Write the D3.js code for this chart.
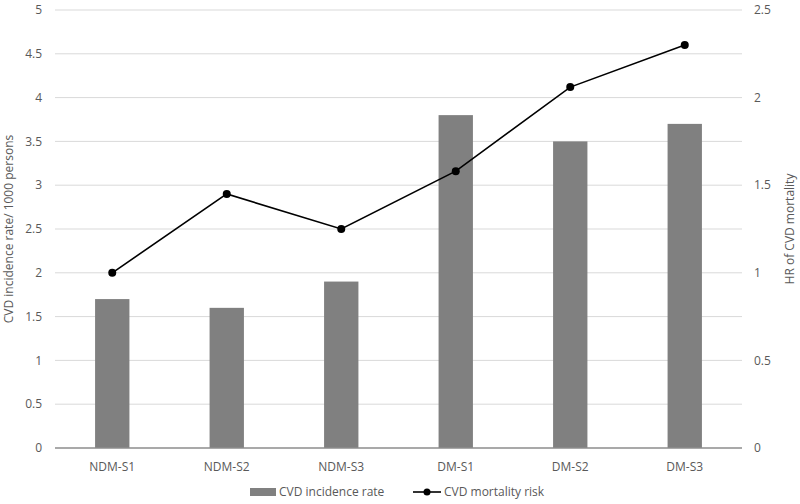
<!doctype html>
<html lang="en">
<head>
    <meta charset="utf-8">
    <title>CVD incidence and mortality</title>
    <script src="https://cdnjs.cloudflare.com/ajax/libs/d3/7.8.5/d3.min.js"></script>
    <style>
        body { margin: 0; background: #fff; }
        #chart text {
            font-family: "Open Sans", "Noto Sans", sans-serif;
            font-size: 12px;
            fill: #595959;
        }
    </style>
</head>
<body>
    <div id="chart"></div>
    <script>
        // data
        var categories = ["NDM-S1", "NDM-S2", "NDM-S3", "DM-S1", "DM-S2", "DM-S3"];
        var incidenceRate = [1.7, 1.6, 1.9, 3.8, 3.5, 3.7];
        var mortalityRisk = [1.0, 1.45, 1.25, 1.58, 2.06, 2.3];
        var leftTicks = [0, 0.5, 1, 1.5, 2, 2.5, 3, 3.5, 4, 4.5, 5];
        var rightTicks = [0, 0.5, 1, 1.5, 2, 2.5];

        var width = 800, height = 504;
        var margin = { top: 10, right: 58, bottom: 56, left: 55 };

        var svg = d3.select("#chart")
            .append("svg")
            .attr("width", width)
            .attr("height", height);

        var x = d3.scaleBand()
            .domain(categories)
            .range([margin.left, width - margin.right]);

        var yLeft = d3.scaleLinear()
            .domain([0, 5])
            .range([height - margin.bottom, margin.top]);

        var yRight = d3.scaleLinear()
            .domain([0, 2.5])
            .range([height - margin.bottom, margin.top]);

        // grid lines
        svg.append("g")
            .selectAll("line")
            .data(leftTicks.slice(1))
            .enter()
            .append("line")
            .attr("x1", margin.left)
            .attr("x2", width - margin.right)
            .attr("y1", function(d) { return yLeft(d); })
            .attr("y2", function(d) { return yLeft(d); })
            .attr("stroke", "#d9d9d9")
            .attr("stroke-width", 1);

        // left tick labels
        svg.append("g")
            .selectAll("text")
            .data(leftTicks)
            .enter()
            .append("text")
            .attr("x", 42)
            .attr("y", function(d) { return yLeft(d); })
            .attr("dy", "0.35em")
            .attr("text-anchor", "end")
            .text(function(d) { return d; });

        // right tick labels
        svg.append("g")
            .selectAll("text")
            .data(rightTicks)
            .enter()
            .append("text")
            .attr("x", 754)
            .attr("y", function(d) { return yRight(d); })
            .attr("dy", "0.35em")
            .attr("text-anchor", "start")
            .text(function(d) { return d; });

        // bars
        var barW = x.bandwidth() * 0.3;
        svg.append("g")
            .selectAll("rect")
            .data(incidenceRate)
            .enter()
            .append("rect")
            .attr("x", function(d, i) { return x(categories[i]) + x.bandwidth() / 2 - barW / 2; })
            .attr("y", function(d) { return yLeft(d); })
            .attr("width", barW)
            .attr("height", function(d) { return yLeft(0) - yLeft(d); })
            .attr("fill", "#808080");

        // baseline
        svg.append("line")
            .attr("x1", margin.left)
            .attr("x2", width - margin.right)
            .attr("y1", yLeft(0))
            .attr("y2", yLeft(0))
            .attr("stroke", "#8c8c8c")
            .attr("stroke-width", 1.5);

        // category labels
        svg.append("g")
            .selectAll("text")
            .data(categories)
            .enter()
            .append("text")
            .attr("x", function(d) { return x(d) + x.bandwidth() / 2; })
            .attr("y", 471)
            .attr("text-anchor", "middle")
            .text(function(d) { return d; });

        // mortality line
        var line = d3.line()
            .x(function(d, i) { return x(categories[i]) + x.bandwidth() / 2; })
            .y(function(d) { return yRight(d); });

        svg.append("path")
            .datum(mortalityRisk)
            .attr("d", line)
            .attr("fill", "none")
            .attr("stroke", "#000")
            .attr("stroke-width", 1.6);

        svg.append("g")
            .selectAll("circle")
            .data(mortalityRisk)
            .enter()
            .append("circle")
            .attr("cx", function(d, i) { return x(categories[i]) + x.bandwidth() / 2; })
            .attr("cy", function(d) { return yRight(d); })
            .attr("r", 4)
            .attr("fill", "#000");

        // axis titles
        svg.append("text")
            .attr("transform", "translate(13," + ((margin.top + height - margin.bottom) / 2) + ") rotate(-90)")
            .attr("text-anchor", "middle")
            .text("CVD incidence rate/ 1000 persons");

        svg.append("text")
            .attr("transform", "translate(794," + ((margin.top + height - margin.bottom) / 2) + ") rotate(-90)")
            .attr("text-anchor", "middle")
            .text("HR of CVD mortality");

        // legend
        var legend = svg.append("g").attr("transform", "translate(0,492)");
        legend.append("rect")
            .attr("x", 250).attr("y", -4)
            .attr("width", 26).attr("height", 8)
            .attr("fill", "#808080");
        legend.append("text")
            .attr("x", 279).attr("dy", "0.35em")
            .text("CVD incidence rate");
        legend.append("line")
            .attr("x1", 413).attr("x2", 441)
            .attr("stroke", "#000").attr("stroke-width", 1.6);
        legend.append("circle")
            .attr("cx", 427).attr("r", 3.5).attr("fill", "#000");
        legend.append("text")
            .attr("x", 444).attr("dy", "0.35em")
            .text("CVD mortality risk");
    </script>
</body>
</html>
